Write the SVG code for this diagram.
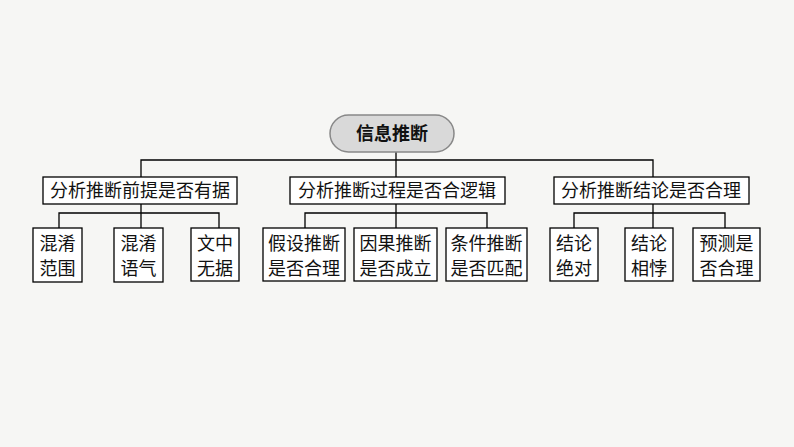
<svg xmlns="http://www.w3.org/2000/svg" width="794" height="447" viewBox="0 0 794 447">
<style>
.b{fill:#fff;stroke:#000;stroke-width:1.3}
.t{font-family:"Noto Sans CJK SC",sans-serif;font-size:18px;fill:#111;text-anchor:middle}
.c{fill:none;stroke:#000;stroke-width:1.3}
</style>
<rect width="794" height="447" fill="#f6f6f4"/>
<g id="connectors" class="c">
<path d="M396 152V160M141 177V160H653V177M396 160V177"/>
<path d="M141 204V228M59 228V213H219V228"/>
<path d="M396 204V228M305 228V213H487V228"/>
<path d="M653 204V228M574 228V213H725V228"/>
</g>
<g id="root"><rect x="330" y="115" width="124" height="37" rx="18.5" fill="#d9d9d9" stroke="#888" stroke-width="1.5"/><text class="t" x="392" y="140" font-weight="bold">信息推断</text></g>
<g id="n1"><rect class="b" x="43" y="177" width="194" height="27"/><text class="t" x="140" y="197">分析推断前提是否有据</text></g>
<g id="n2"><rect class="b" x="290" y="177" width="215" height="27"/><text class="t" x="397" y="197">分析推断过程是否合逻辑</text></g>
<g id="n3"><rect class="b" x="554" y="177" width="195" height="27"/><text class="t" x="651" y="197">分析推断结论是否合理</text></g>
<g id="n11"><rect class="b" x="33" y="228" width="49" height="54"/><text class="t" x="57.5" y="250">混淆</text><text class="t" x="57.5" y="275">范围</text></g>
<g id="n12"><rect class="b" x="114" y="228" width="49" height="54"/><text class="t" x="138.5" y="250">混淆</text><text class="t" x="138.5" y="275">语气</text></g>
<g id="n13"><rect class="b" x="191" y="228" width="48" height="53"/><text class="t" x="215" y="250">文中</text><text class="t" x="215" y="275">无据</text></g>
<g id="n21"><rect class="b" x="263" y="228" width="82" height="53"/><text class="t" x="304" y="250">假设推断</text><text class="t" x="304" y="275">是否合理</text></g>
<g id="n22"><rect class="b" x="354" y="228" width="83" height="53"/><text class="t" x="395.5" y="250">因果推断</text><text class="t" x="395.5" y="275">是否成立</text></g>
<g id="n23"><rect class="b" x="446" y="228" width="81" height="53"/><text class="t" x="486.5" y="250">条件推断</text><text class="t" x="486.5" y="275">是否匹配</text></g>
<g id="n31"><rect class="b" x="550" y="228" width="48" height="53"/><text class="t" x="574" y="250">结论</text><text class="t" x="574" y="275">绝对</text></g>
<g id="n32"><rect class="b" x="625" y="228" width="48" height="53"/><text class="t" x="649" y="250">结论</text><text class="t" x="649" y="275">相悖</text></g>
<g id="n33"><rect class="b" x="693" y="228" width="67" height="53"/><text class="t" x="726.5" y="250">预测是</text><text class="t" x="726.5" y="275">否合理</text></g>
</svg>
